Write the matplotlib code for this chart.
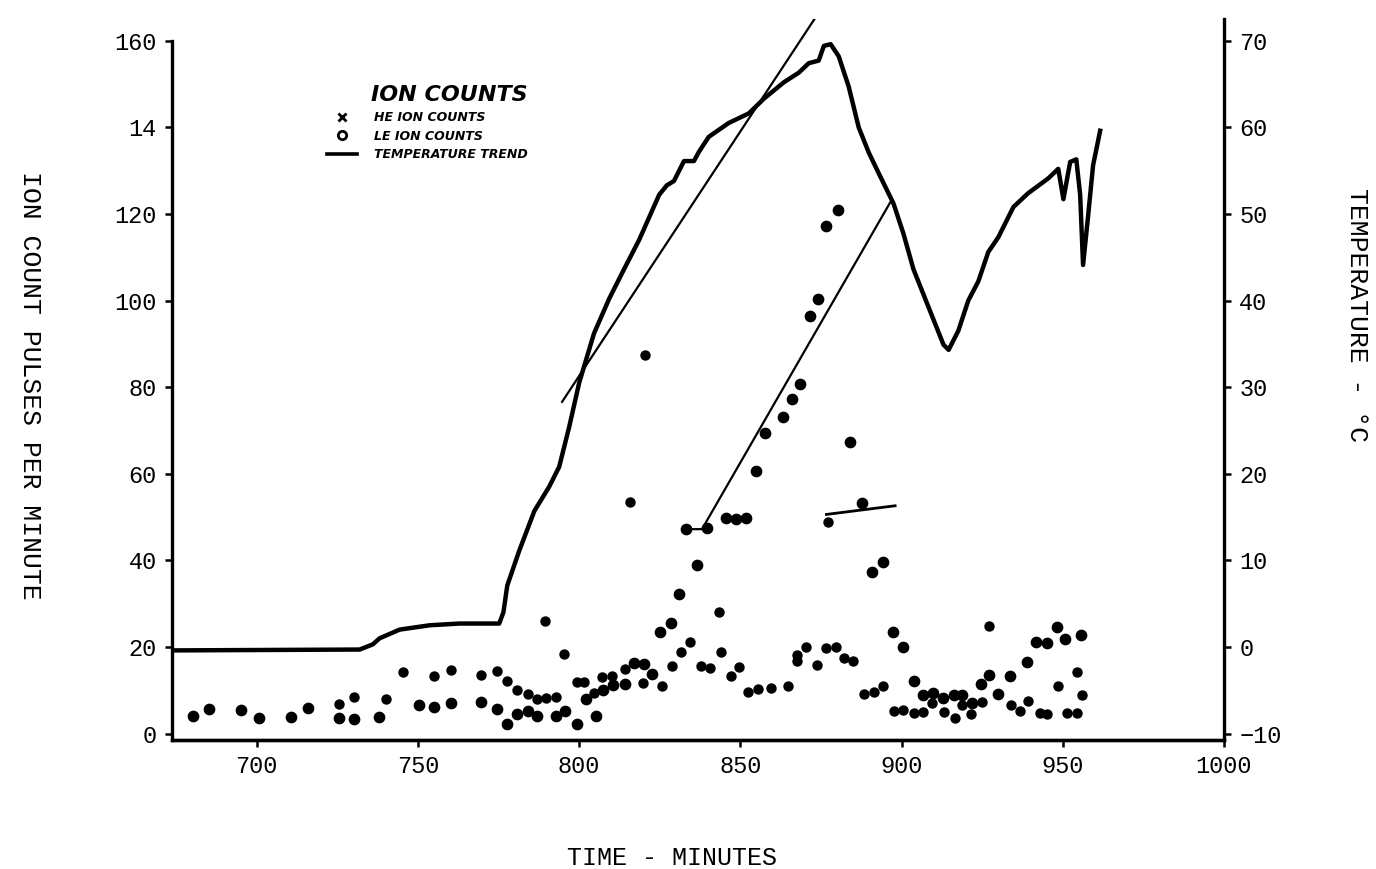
import matplotlib.pyplot as plt
from matplotlib.lines import Line2D

plt.rcParams['font.family'] = ['Liberation Mono', 'DejaVu Sans']

# temperature trace (minutes, deg C)
temp_time = [673.7, 731.9, 736.0, 738.1, 744.3, 753.6, 762.8, 775.2, 776.5, 777.7,
             781.4, 786.1, 790.7, 793.8, 796.9, 800.0, 804.6, 809.3, 813.9, 818.6,
             824.8, 827.2, 829.4, 832.5, 835.6, 837.2, 840.2, 846.4, 852.6, 857.3,
             863.5, 868.1, 871.2, 874.3, 875.9, 878.0, 880.5, 883.6, 886.7, 889.8,
             892.9, 897.5, 900.6, 903.7, 906.8, 909.9, 913.0, 914.6, 917.6, 920.7,
             923.8, 926.9, 930.0, 934.7, 939.3, 945.5, 948.6, 950.2, 952.3, 954.2,
             955.4, 956.3, 957.9, 959.4, 961.6]
temp_val = [-0.4, -0.3, 0.3, 1.0, 2.0, 2.5, 2.7, 2.7, 4.0, 7.1,
            11.1, 15.7, 18.5, 20.8, 25.4, 30.5, 36.2, 40.2, 43.6, 47.0,
            52.2, 53.3, 53.8, 56.1, 56.1, 57.2, 58.9, 60.5, 61.6, 63.3,
            65.2, 66.3, 67.4, 67.7, 69.4, 69.6, 68.2, 64.7, 60.0, 57.1,
            54.7, 51.2, 47.7, 43.6, 40.7, 37.8, 34.9, 34.3, 36.5, 40.0,
            42.2, 45.6, 47.3, 50.8, 52.4, 54.1, 55.2, 51.7, 56.0, 56.3,
            52.2, 44.1, 49.9, 55.6, 59.6]

# hand drawn trend lines
trend1_time = [794.7, 873.7]
trend1_val = [28.3, 72.9]
trend2_time = [833.1, 838.1, 896.9]
trend2_val = [13.6, 13.6, 51.6]
trend3_time = [876.7, 898.0]
trend3_val = [15.3, 16.3]

# LE ion counts
le_time = [680.2, 685.1, 695.0, 700.6, 710.5, 715.8, 725.4, 730.3, 737.8, 750.2,
           755.1, 760.1, 769.7, 774.6, 777.7, 780.8, 784.2, 787.0, 792.9, 795.7,
           799.4, 802.2, 805.3, 807.4, 810.5, 814.2, 817.0, 820.1, 822.6, 825.1,
           828.5, 831.0, 833.1, 836.5, 839.6, 845.5, 848.6, 851.7, 854.8, 857.6,
           863.2, 866.0, 868.4, 871.5, 874.0, 876.7, 880.2, 883.9, 887.6, 890.7,
           894.1, 897.2, 900.3, 904.0, 906.5, 909.6, 913.0, 916.4, 918.9, 921.7,
           924.5, 927.2, 930.0, 933.7, 939.0, 941.8, 945.2, 948.3, 950.8, 955.7]
le_val = [4.0, 5.7, 5.5, 3.7, 3.9, 5.8, 3.5, 3.4, 3.9, 6.6,
          6.2, 7.0, 7.3, 5.7, 2.2, 4.4, 5.3, 4.0, 4.1, 5.2,
          2.3, 8.0, 4.0, 10.0, 11.1, 11.4, 16.2, 16.1, 13.7, 23.4,
          25.6, 32.2, 47.2, 39.0, 47.5, 49.7, 49.6, 49.7, 60.7, 69.4,
          73.2, 77.3, 80.7, 96.5, 100.4, 117.2, 121.0, 67.3, 53.3, 37.4,
          39.6, 23.4, 20.1, 12.1, 8.8, 9.4, 8.2, 9.0, 9.0, 7.0,
          11.4, 13.6, 9.1, 13.2, 16.5, 21.1, 20.8, 24.6, 21.8, 22.8]

# HE ion counts
he_time = [725.4, 730.3, 740.2, 745.2, 755.1, 760.1, 769.7, 774.6, 777.7, 780.8,
           784.2, 787.0, 789.8, 792.9, 789.5, 795.4, 799.4, 801.5, 804.6, 807.1,
           810.2, 814.2, 815.8, 819.8, 820.4, 825.7, 828.8, 831.6, 834.4, 837.8,
           840.6, 843.3, 844.0, 847.1, 849.5, 852.3, 855.4, 859.4, 864.7, 867.5,
           867.5, 870.3, 873.7, 876.7, 877.1, 879.6, 882.0, 884.8, 888.5, 891.6,
           894.3, 897.8, 900.6, 904.0, 906.8, 909.3, 913.3, 916.7, 918.6, 921.4,
           924.8, 927.2, 934.1, 936.8, 939.3, 943.0, 945.2, 948.6, 951.4, 954.5,
           954.5, 956.0]
he_val = [6.8, 8.5, 8.0, 14.1, 13.2, 14.6, 13.5, 14.5, 12.1, 10.0,
          9.2, 7.9, 8.1, 8.5, 25.9, 18.4, 12.0, 12.0, 9.4, 13.0,
          13.4, 14.9, 53.4, 11.7, 87.5, 10.9, 15.5, 18.8, 21.1, 15.5,
          15.1, 28.0, 18.8, 13.3, 15.4, 9.7, 10.4, 10.5, 11.0, 18.1,
          16.7, 19.9, 15.9, 19.7, 48.8, 19.9, 17.5, 16.8, 9.1, 9.7,
          11.0, 5.1, 5.5, 4.7, 4.9, 7.1, 5.0, 3.5, 6.7, 4.5,
          7.2, 24.9, 6.5, 5.1, 7.5, 4.7, 4.6, 11.0, 4.7, 4.8,
          14.1, 9.0]

x_ticks = [700, 750, 800, 850, 900, 950, 1000]
left_ticks = [0, 20, 40, 60, 80, 100, 120, 140, 160]
left_labels = ['0', '20', '40', '60', '80', '100', '120', '14', '160']
right_ticks = [-10, 0, 10, 20, 30, 40, 50, 60, 70]

fig = plt.figure(figsize=(13.76, 8.69), dpi=100)
ax = fig.add_axes([0.125, 0.1484, 0.7645, 0.8297])
ax2 = ax.twinx()

ax.scatter(he_time, he_val, s=42, color='black', zorder=3)
ax.scatter(le_time, le_val, s=55, color='black', zorder=3)

ax2.plot(temp_time, temp_val, color='black', lw=3.2, solid_joinstyle='round')
ax2.plot(trend1_time, trend1_val, color='black', lw=1.6)
ax2.plot(trend2_time, trend2_val, color='black', lw=1.6)
ax2.plot(trend3_time, trend3_val, color='black', lw=2.0)

ax.set_xlim(673.7, 1000)
ax.set_ylim(-1.5, 165)
ax2.set_ylim(-10.75, 72.5)

ax.set_xticks(x_ticks)
ax.set_yticks(left_ticks)
ax.set_yticklabels(left_labels)
ax2.set_yticks(right_ticks)
ax2.set_yticklabels(['\u221210' if t == -10 else str(t) for t in right_ticks])

for a in (ax, ax2):
    a.spines['top'].set_visible(False)
    for s in ('left', 'right', 'bottom'):
        a.spines[s].set_linewidth(2.4)
    a.tick_params(direction='out', length=5, width=1.8, labelsize=17, pad=6)
ax.spines['left'].set_bounds(-1.5, 160)
ax2.spines['left'].set_visible(False)
ax.spines['right'].set_visible(False)

# legend drawn by hand on the original
handles = [Line2D([], [], marker='x', ls='none', color='black', markersize=6, mew=2),
           Line2D([], [], marker='o', ls='none', color='black', mfc='white', markersize=6, mew=2),
           Line2D([], [], color='black', lw=2.6)]
leg = ax.legend(handles, ['HE ION COUNTS', 'LE ION COUNTS', 'TEMPERATURE TREND'],
                title='ION COUNTS', loc='upper left', frameon=False,
                bbox_to_anchor=(316 / 1376, 1 - 74 / 869), bbox_transform=fig.transFigure,
                prop={'family': 'DejaVu Sans', 'size': 9, 'weight': 'bold', 'style': 'italic'},
                title_fontproperties={'family': 'DejaVu Sans', 'size': 16, 'weight': 'bold', 'style': 'italic'},
                alignment='right', handlelength=2.4, labelspacing=0.45, handletextpad=1.3)

fig.text(672 / 1376, 1 - 858 / 869, 'TIME - MINUTES', fontsize=18, ha='center', va='center')
fig.text(30 / 1376, 1 - 385 / 869, 'ION COUNT PULSES PER MINUTE', fontsize=19,
         rotation=270, ha='center', va='center')
fig.text(1357 / 1376, 1 - 315 / 869, 'TEMPERATURE - \u00b0C', fontsize=19,
         rotation=270, ha='center', va='center')

plt.savefig('out.png', dpi=100)
